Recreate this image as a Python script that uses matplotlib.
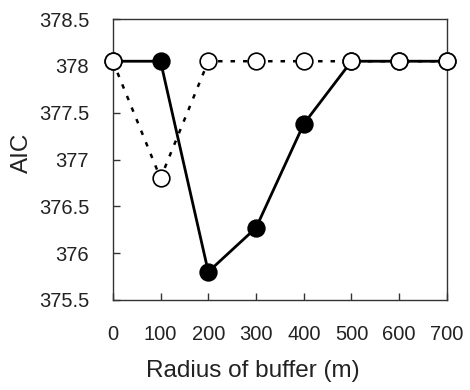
import matplotlib.pyplot as plt

radius = [0, 100, 200, 300, 400, 500, 600, 700]
aic_solid = [378.05, 378.05, 375.8, 376.27, 377.38, 378.05, 378.05, 378.05]
solid_filled = [False, True, True, True, True, False, False, False]
aic_dotted = [378.05, 376.8, 378.05, 378.05, 378.05, 378.05, 378.05, 378.05]

plt.rcParams['font.family'] = ['Liberation Sans', 'DejaVu Sans']

fig = plt.figure(figsize=(4.7, 3.9), dpi=100)
ax = fig.add_axes([0.240, 0.231, 0.711, 0.720])

# dotted series with open circles
ax.plot(radius, aic_dotted, color='black', lw=1.8, linestyle=(0, (1.8, 3.2)),
        marker='o', ms=12, mfc='white', mec='black', mew=1.2, clip_on=False, zorder=2)

# solid series: line first, then markers (filled where significant)
ax.plot(radius, aic_solid, color='black', lw=2, clip_on=False, zorder=3)
for x, y, filled in zip(radius, aic_solid, solid_filled):
    ax.plot(x, y, marker='o', ms=12, mfc='black' if filled else 'white',
            mec='black', mew=1.2, clip_on=False, zorder=4)

ax.set_xlim(0, 700)
ax.set_ylim(375.5, 378.5)
ax.set_xticks(radius)
ax.set_yticks([375.5, 376, 376.5, 377, 377.5, 378, 378.5])
ax.set_yticklabels(['375.5', '376', '376.5', '377', '377.5', '378', '378.5'])
ax.tick_params(direction='in', length=5, width=1, colors='#333333',
               labelcolor='#222222', labelsize=14.5)
ax.tick_params(axis='x', pad=18)
ax.tick_params(axis='y', pad=17)
for s in ax.spines.values():
    s.set_linewidth(1)
    s.set_color('#333333')

ax.set_xlabel('Radius of buffer (m)', fontsize=17.5, color='#222222')
ax.xaxis.set_label_coords(0.42, -0.215)
ax.set_ylabel('AIC', fontsize=17.5, color='#222222')
ax.yaxis.set_label_coords(-0.24, 0.523)

fig.savefig('out.png', dpi=100)
